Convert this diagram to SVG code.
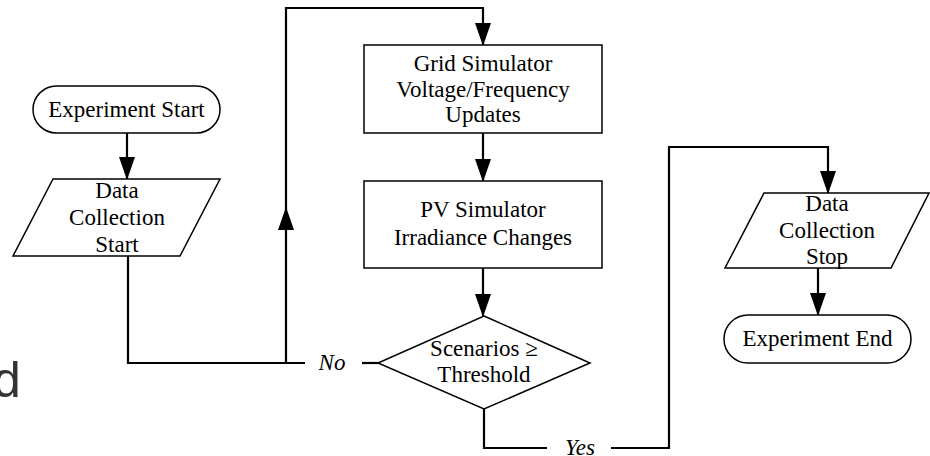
<svg xmlns="http://www.w3.org/2000/svg" width="930" height="456" viewBox="0 0 930 456">
<style>
.node{fill:#fff;stroke:#000;stroke-width:1.5}
.t{font-family:"Liberation Serif","Times New Roman",serif;font-size:23px;fill:#000;text-anchor:middle}
.lbl{font-family:"Liberation Serif","Times New Roman",serif;font-size:23px;font-style:italic;fill:#000;text-anchor:middle}
.c{fill:none;stroke:#000;stroke-width:2.2}
</style>
<defs>
<marker id="ah" viewBox="0 0 23 16" refX="22" refY="8" markerWidth="23" markerHeight="16" orient="auto" markerUnits="userSpaceOnUse">
<path d="M0,0 L23,8 L0,16 Z" fill="#000"/>
</marker>
</defs>
<rect width="930" height="456" fill="#fff"/>
<text x="-7" y="397" font-family="'Liberation Sans',Arial,sans-serif" font-size="50" fill="#333">d</text>
<g id="connectors">
<path class="c" d="M127,133 V179" marker-end="url(#ah)"/>
<path class="c" d="M128,256 V363 H305"/>
<path class="c" d="M286,363 V208" marker-end="url(#ah)"/>
<path class="c" d="M286,209 V8 H483 V45" marker-end="url(#ah)"/>
<path class="c" d="M483,133 V181" marker-end="url(#ah)"/>
<path class="c" d="M483,268 V316" marker-end="url(#ah)"/>
<path class="c" d="M362,363 H378"/>
<path class="c" d="M484,409 V448 H547"/>
<path class="c" d="M611,448 H669 V147 H828 V193" marker-end="url(#ah)"/>
<path class="c" d="M818,268 V315" marker-end="url(#ah)"/>
<text class="lbl" x="332" y="370">No</text>
<text class="lbl" x="580" y="455">Yes</text>
</g>
<g id="exp-start">
<rect class="node" x="33" y="86" width="187" height="47" rx="23.5"/>
<text class="t" x="126.5" y="117">Experiment Start</text>
</g>
<g id="data-start">
<polygon class="node" points="53,179 220,179 180,256 13,256"/>
<text class="t" x="117" y="198">Data</text>
<text class="t" x="117" y="225">Collection</text>
<text class="t" x="117" y="252">Start</text>
</g>
<g id="grid">
<rect class="node" x="364" y="45" width="238" height="88"/>
<text class="t" x="483" y="71">Grid Simulator</text>
<text class="t" x="483" y="97">Voltage/Frequency</text>
<text class="t" x="483" y="122">Updates</text>
</g>
<g id="pv">
<rect class="node" x="364" y="181" width="238" height="87"/>
<text class="t" x="483" y="217">PV Simulator</text>
<text class="t" x="483" y="245">Irradiance Changes</text>
</g>
<g id="decision">
<polygon class="node" points="484,316 590,363 484,409 378,363"/>
<text class="t" x="484" y="356">Scenarios ≥</text>
<text class="t" x="484" y="382">Threshold</text>
</g>
<g id="data-stop">
<polygon class="node" points="764,193 929,193 891,268 725,268"/>
<text class="t" x="827" y="211">Data</text>
<text class="t" x="827" y="238">Collection</text>
<text class="t" x="827" y="264">Stop</text>
</g>
<g id="exp-end">
<rect class="node" x="724" y="315" width="187" height="48" rx="24"/>
<text class="t" x="817.5" y="346">Experiment End</text>
</g>
</svg>
